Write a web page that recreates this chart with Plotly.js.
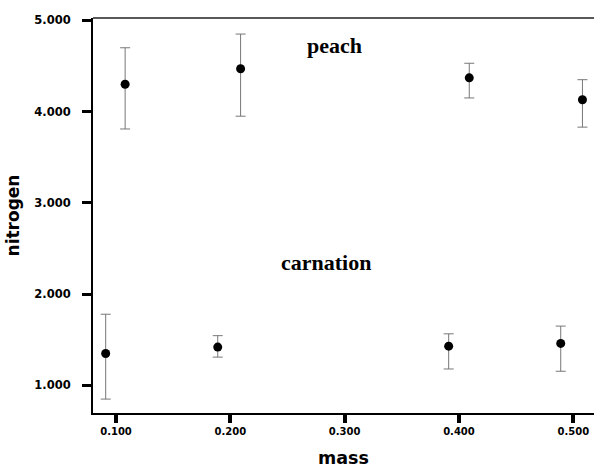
<!DOCTYPE html>
<html>
<head>
<meta charset="utf-8">
<script src="https://cdn.plot.ly/plotly-3.0.1.min.js"></script>
<style>html,body{margin:0;padding:0;background:#fff}</style>
</head>
<body>
<div id="chart" style="width:594px;height:472px"></div>
<script>
// Data
const peachMass = [0.108, 0.209, 0.409, 0.508];
const peachN = [4.30, 4.47, 4.37, 4.13];
const peachUpper = [4.70, 4.85, 4.53, 4.35];
const peachLower = [3.81, 3.95, 4.15, 3.83];

const carnMass = [0.091, 0.189, 0.391, 0.489];
const carnN = [1.35, 1.42, 1.43, 1.46];
const carnUpper = [1.78, 1.545, 1.565, 1.65];
const carnLower = [0.85, 1.31, 1.18, 1.155];

const xTicks = [0.1, 0.2, 0.3, 0.4, 0.5];
const xTickText = ["0.100", "0.200", "0.300", "0.400", "0.500"];
const yTicks = [1, 2, 3, 4, 5];
const yTickText = ["1.000", "2.000", "3.000", "4.000", "5.000"];

const groupLabels = ["peach", "carnation"];

function diff(a, b) { return a.map((v, i) => +(v - b[i]).toFixed(4)); }

function makeTrace(x, y, up, lo, name) {
  return {
    type: 'scatter', mode: 'markers', name: name,
    x: x, y: y,
    marker: {color: '#000', size: 9},
    error_y: {
      type: 'data', symmetric: false,
      array: diff(up, y), arrayminus: diff(y, lo),
      color: '#777', thickness: 1, width: 5
    },
    showlegend: false, hoverinfo: 'x+y'
  };
}

const data = [
  makeTrace(peachMass, peachN, peachUpper, peachLower, groupLabels[0]),
  makeTrace(carnMass, carnN, carnUpper, carnLower, groupLabels[1])
];

const sans = 'DejaVu Sans, Arial, sans-serif';
const layout = {
  width: 594, height: 472,
  margin: {l: 93, r: 0, t: 18, b: 59},
  paper_bgcolor: '#fff', plot_bgcolor: '#fff',
  xaxis: {
    range: [0.0799, 0.5181],
    tickvals: xTicks, ticktext: xTickText,
    ticks: 'outside', ticklen: 8, tickwidth: 4, tickcolor: '#000',
    showgrid: false, zeroline: false,
    showline: true, linecolor: '#000', linewidth: 2,
    tickfont: {family: sans, size: 10, color: '#000', weight: 'bold'},
    title: {text: '<b>mass</b>', font: {family: sans, size: 17.5, color: '#000'}, standoff: 16}
  },
  yaxis: {
    range: [0.6975, 5.026],
    tickvals: yTicks, ticktext: yTickText,
    ticks: 'outside', ticklen: 9, tickwidth: 3, tickcolor: '#000',
    showgrid: false, zeroline: false,
    showline: true, linecolor: '#000', linewidth: 2,
    tickfont: {family: sans, size: 11.5, color: '#000', weight: 'bold'},
    ticklabelstandoff: 9,
    title: {text: '<b>nitrogen</b>', font: {family: sans, size: 17, color: '#000'}, standoff: 10}
  },
  shapes: [{
    type: 'line', xref: 'paper', yref: 'paper',
    x0: 0, x1: 1, y0: 1, y1: 1,
    line: {color: '#222', width: 1.5}
  }],
  annotations: [
    {x: 0.291, y: 4.72, xref: 'x', yref: 'y', text: '<b>' + groupLabels[0] + '</b>', showarrow: false,
     font: {family: 'Liberation Serif, Times New Roman, serif', size: 22, color: '#000'}},
    {x: 0.2835, y: 2.35, xref: 'x', yref: 'y', text: '<b>' + groupLabels[1] + '</b>', showarrow: false,
     font: {family: 'Liberation Serif, Times New Roman, serif', size: 22, color: '#000'}}
  ]
};

Plotly.newPlot('chart', data, layout, {displayModeBar: false, staticPlot: true});
</script>
</body>
</html>
